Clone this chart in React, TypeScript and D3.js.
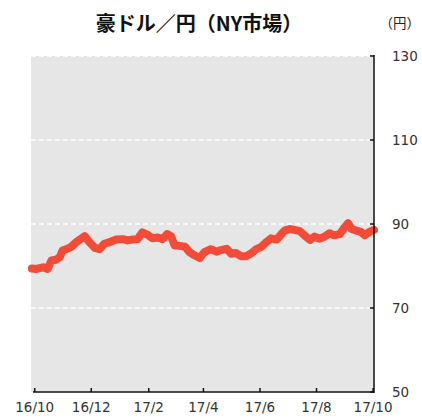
import React from "react";
import * as d3 from "d3";

const dates: string[] = [
  "2016-09-28","2016-10-03","2016-10-10","2016-10-15","2016-10-19","2016-10-24","2016-10-28","2016-10-31",
  "2016-11-04","2016-11-09","2016-11-15","2016-11-20","2016-11-24","2016-11-29","2016-12-05","2016-12-10",
  "2016-12-15","2016-12-21","2016-12-28","2017-01-04","2017-01-09","2017-01-15","2017-01-20","2017-01-25",
  "2017-01-31","2017-02-05","2017-02-11","2017-02-16","2017-02-21","2017-02-25","2017-03-01","2017-03-06",
  "2017-03-12","2017-03-17","2017-03-22","2017-03-28","2017-04-02","2017-04-09","2017-04-15","2017-04-20",
  "2017-04-26","2017-05-01","2017-05-06","2017-05-12","2017-05-17","2017-05-23","2017-05-28","2017-06-02",
  "2017-06-08","2017-06-13","2017-06-19","2017-06-24","2017-06-28","2017-07-03","2017-07-08","2017-07-14",
  "2017-07-19","2017-07-25","2017-07-30","2017-08-04","2017-08-10","2017-08-15","2017-08-20","2017-08-26",
  "2017-08-30","2017-09-04","2017-09-08","2017-09-13","2017-09-18","2017-09-22","2017-09-27","2017-10-02",
];
const values: number[] = [
  79.4, 79.3, 79.7, 79.3, 81.3, 81.5, 82.1, 83.7,
  84.0, 84.5, 85.7, 86.5, 87.1, 85.7, 84.3, 84.0,
  85.3, 85.7, 86.3, 86.4, 86.1, 86.3, 86.4, 88.0,
  87.4, 86.6, 86.8, 86.4, 87.6, 87.1, 84.9, 84.8,
  84.6, 83.3, 82.6, 81.9, 83.3, 84.0, 83.4, 83.8,
  84.1, 82.9, 83.1, 82.3, 82.3, 83.1, 84.0, 84.5,
  85.7, 86.6, 86.3, 87.6, 88.5, 88.8, 88.6, 88.3,
  87.3, 86.2, 87.0, 86.5, 87.0, 87.8, 87.3, 87.6,
  88.8, 90.2, 88.8, 88.4, 88.1, 87.3, 88.1, 88.6,
];
const xTickDates: string[] = ["2016-10-01","2016-12-01","2017-02-01","2017-04-01","2017-06-01","2017-08-01","2017-10-01"];
const xTickLabels: string[] = ["16/10","16/12","17/2","17/4","17/6","17/8","17/10"];
const yTicks: number[] = [50, 70, 90, 110, 130];
const title = "豪ドル／円（NY市場）";
const unit = "（円）";

export default function App() {
  const W = 422, H = 418;
  const left = 31, right = 374, top = 56, bottom = 392;
  const parse = d3.timeParse("%Y-%m-%d");
  const x = d3.scaleTime()
    .domain([parse("2016-09-27")!, parse("2017-10-02")!])
    .range([left, right]);
  const y = d3.scaleLinear().domain([50, 130]).range([bottom, top]);
  const data = dates.map((d, i) => ({ d: parse(d)!, v: values[i] }));
  const line = d3.line<{ d: Date; v: number }>()
    .x(p => x(p.d))
    .y(p => y(p.v))
    .curve(d3.curveLinear);
  const font = "'Noto Sans CJK JP', 'Noto Sans', sans-serif";
  const tickFont = "'DejaVu Sans', sans-serif";
  return (
    <svg width={W} height={H} style={{ position: "absolute", left: 0, top: 0, background: "#fff" }}>
      <text x={199} y={31} textAnchor="middle" fontFamily={font} fontWeight={700} fontSize={20} fill="#111">{title}</text>
      <text x={420} y={28} textAnchor="end" fontFamily={font} fontSize={13.5} fill="#222">{unit}</text>
      <rect x={left} y={top} width={right - left} height={bottom - top} fill="#e6e6e6" />
      {yTicks.filter(t => t !== 50).map(t => (
        <line key={t} x1={left} x2={right} y1={y(t)} y2={y(t)} stroke="#fff" strokeWidth={1.5} strokeDasharray="5,3" />
      ))}
      <path d={line(data) || ""} fill="none" stroke="#f24c38" strokeWidth={8} strokeLinejoin="round" strokeLinecap="round" />
      <line x1={right} x2={right} y1={top - 1} y2={bottom + 1} stroke="#111" strokeWidth={1.5} />
      <line x1={left + 2} x2={right} y1={bottom} y2={bottom} stroke="#111" strokeWidth={1.5} />
      {yTicks.map(t => (
        <g key={t}>
          <line x1={right - 4} x2={right} y1={y(t)} y2={y(t)} stroke="#111" strokeWidth={1.5} />
          <text x={392} y={y(t) + 5} fontFamily={tickFont} fontSize={13.5} fill="#333">{t}</text>
        </g>
      ))}
      {xTickDates.map((t, i) => {
        const xp = x(parse(t)!);
        return (
          <g key={t}>
            <line x1={xp} x2={xp} y1={bottom} y2={bottom - 4} stroke="#111" strokeWidth={1.5} />
            <text x={xp} y={412} textAnchor="middle" fontFamily={tickFont} fontSize={13.5} fill="#333">{xTickLabels[i]}</text>
          </g>
        );
      })}
    </svg>
  );
}
